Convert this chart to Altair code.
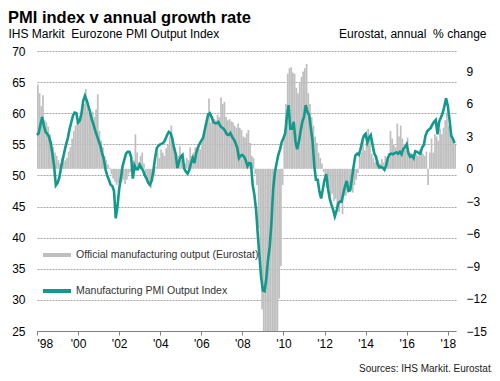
import altair as alt
import pandas as pd

start_year = 1998

# Eurozone manufacturing PMI output index, monthly from Jan 1998
pmi = [
    56.5, 56.8, 58.2, 59.4, 58.0, 57.0, 56.7, 56.2, 55.2, 53.5, 51.5, 48.4,
    48.8, 49.6, 51.2, 52.5, 53.8, 55.0, 56.0, 57.4, 58.5, 59.6, 60.1, 60.0,
    58.5, 58.8, 60.0, 62.0, 62.8, 62.1, 61.2, 60.2, 59.0, 58.2, 57.2, 56.4,
    55.6, 54.8, 53.6, 52.7, 51.0, 50.0, 49.3, 48.5, 48.3, 47.5, 43.1, 45.0,
    47.8, 49.5, 51.5, 52.5, 53.5, 53.8, 53.8, 53.0, 49.5, 51.6, 51.0, 51.0,
    51.7, 51.2, 50.8, 50.0, 49.5, 48.8, 48.5, 49.2, 50.8, 52.8, 54.4, 54.8,
    55.0, 55.1, 55.3, 55.8, 56.5, 57.0, 56.8, 56.0, 54.5, 53.5, 51.2, 52.2,
    53.0, 53.3, 51.1, 50.6, 50.3, 50.9, 52.0, 52.8, 52.0, 53.6, 54.5, 55.1,
    55.6, 56.0, 57.3, 58.6, 59.8, 60.0, 59.4, 58.6, 58.4, 58.4, 58.6, 58.0,
    57.7, 57.5, 57.1, 56.6, 56.5, 56.8, 56.2, 55.8, 55.2, 54.4, 52.8, 53.2,
    53.3, 53.0, 52.4, 51.5, 52.0, 51.9, 48.5, 46.9, 44.5, 40.5, 36.9, 33.5,
    31.5, 31.4, 33.5, 36.5, 38.6, 42.6, 47.9, 50.5, 52.0, 53.3, 54.2, 55.4,
    56.0, 56.8, 59.5, 61.3, 57.5, 57.5, 58.6, 55.5, 54.2, 55.4, 57.1, 58.6,
    59.4, 61.3, 60.2, 59.7, 57.6, 55.5, 51.5, 49.3, 49.3, 47.4, 46.3, 47.8,
    49.3, 50.2, 47.9, 46.3, 45.3, 44.5, 43.4, 44.3, 45.5, 45.8, 45.8, 47.2,
    48.3, 49.1, 47.5, 47.6, 49.5, 51.5, 53.2, 53.5, 53.3, 54.2, 55.5, 56.4,
    56.7, 55.3, 56.1, 56.5, 55.0, 53.6, 53.0, 51.8, 51.3, 51.4, 51.2, 50.9,
    51.6, 52.8, 53.4, 53.5, 53.4, 53.6, 53.7, 53.5, 53.8, 53.4, 54.3, 54.5,
    55.0, 53.6, 53.0, 53.2, 52.8, 53.9, 53.8, 53.6, 53.5, 54.5, 54.9, 56.4,
    57.1, 57.4, 57.6, 58.2, 58.6, 58.9, 56.6, 58.7, 59.3, 60.0, 61.1, 62.4,
    61.2, 59.0, 56.4, 55.9, 55.2,
]

# Eurostat manufacturing output, annual % change, monthly from Jan 1998
output = [
    7.8, 7.0, 5.8, 6.8, 4.5, 4.3, 3.9, 3.2, 2.6, 2.0, 1.5, 1.2,
    0.8, 0.5, 1.0, 0.6, 0.8, 1.0, 1.6, 2.0, 2.8, 3.5, 4.0, 4.4,
    4.5, 5.0, 5.5, 6.0, 7.4, 5.8, 5.2, 5.0, 5.3, 4.8, 5.5, 6.9,
    3.5, 2.6, 2.0, 1.2, 0.8, 0.4, 0.1, -0.5, -0.9, -1.2, -1.5, -1.3,
    -1.4, -1.2, -1.0, -1.4, -1.0, -0.5, -0.3, 0.3, 0.8, 3.2, 1.5, 0.6,
    1.2, 1.5, 0.5, -0.5, -1.0, -1.6, -1.8, -1.2, -0.6, 0.2, 1.5, 1.0,
    1.8, 1.5, 1.2, 1.9, 2.2, 3.0, 4.0, 2.5, 2.0, 1.5, 1.2, 2.1,
    0.8, 1.2, 0.5, 1.0, 0.8, 2.0, 1.2, 1.5, 2.0, 1.5, 2.1, 1.8,
    2.8, 3.2, 3.8, 4.5, 6.5, 4.3, 4.9, 4.6, 4.5, 5.0, 4.8, 6.6,
    6.0, 6.2, 4.8, 4.5, 4.6, 4.4, 4.3, 4.0, 3.8, 4.2, 3.8, 3.6,
    3.0, 2.9, 3.3, 3.6, 2.4, 1.2, 1.0, -0.5, -1.5, -5.5, -9.5, -13.0,
    -18.0, -20.0, -20.0, -22.0, -19.0, -18.0, -17.0, -16.0, -15.5, -12.0, -9.0, -1.5,
    3.0, 6.0, 8.8, 9.3, 9.4, 8.9, 8.8, 7.5, 7.0, 8.0, 8.5, 9.0,
    9.3, 9.7, 7.0, 6.0, 4.8, 4.0, 3.0, 2.4, 1.5, 1.0, 0.5, -0.3,
    -1.0, -1.8, -2.0, -2.5, -2.3, -3.0, -2.8, -3.5, -4.0, -3.2, -4.2, -2.5,
    -2.5, -2.0, -1.8, -1.5, -2.2, -1.5, -1.0, -0.4, 1.2, 1.5, 3.0, 1.7,
    2.4, 3.7, 2.9, 1.4, 1.0, 0.6, 1.2, 0.8, 0.5, 0.9, 0.6, 1.2,
    1.0, 1.4, 3.5, 2.8, 2.2, 2.0, 4.2, 3.0, 4.0, 2.8, 2.3, 1.8,
    2.9, 1.2, 1.5, 1.3, 1.0, 1.4, 1.2, 1.8, 1.5, 1.4, 1.2, 1.6,
    -1.5, 1.5, 2.8, 1.5, 3.2, 3.0, 2.6, 3.7, 3.2, 3.8, 4.5, 5.2,
    4.0, 3.2, 2.8, 2.5, 2.2,
]

series_names = ["Official manufacturing output (Eurostat)", "Manufacturing PMI Output Index"]
series_colors = ["#bfbfbf", "#12998c"]
year_ticks = list(range(1998, 2019, 2))
left_ticks = list(range(25, 71, 5))
right_ticks = list(range(-15, 10, 3))

n = len(pmi)
t = [start_year + i / 12 for i in range(n)]
df = pd.DataFrame({
    "t": t,
    "t2": [v + 1 / 12 for v in t],
    "pmi": pmi,
    "output": output,
    "s_bar": series_names[0],
    "s_line": series_names[1],
})

FONT = "Liberation Sans"

xscale = alt.Scale(domain=[1998, 2018.4], nice=False, zero=False)
color_scale = alt.Scale(domain=series_names, range=series_colors)
legend = alt.Legend(
    orient="none", legendX=4, legendY=188, title=None,
    symbolType="stroke", symbolSize=784, symbolStrokeWidth=4,
    labelFont=FONT, labelFontSize=10.5, labelColor="#333333", labelLimit=400,
    labelOffset=3, rowPadding=12, padding=0,
)

x_axis = alt.Axis(
    values=year_ticks, labelExpr="\"'\" + substring(toString(datum.value), 2)",
    grid=False, domainColor="#808080", tickColor="#808080", tickSize=4,
    labelPadding=3, labelFont=FONT, labelFontSize=12, labelColor="#000000",
    title="Sources: IHS Markit, Eurostat.", titleAngle=0, titleAlign="right",
    titleBaseline="alphabetic", titleX=456, titleY=40, titleFont=FONT,
    titleFontSize=10, titleFontWeight="normal", titleColor="#222222",
)

bars = alt.Chart(df).mark_rect(clip=True).encode(
    x=alt.X("t:Q", scale=xscale, axis=x_axis),
    x2="t2:Q",
    y=alt.Y("output:Q",
            scale=alt.Scale(domain=[-15, 10.9], nice=False, zero=False),
            axis=alt.Axis(orient="right", values=right_ticks, grid=False, ticks=False,
                          tickSize=0, domain=False, labelPadding=10,
                          labelFont=FONT, labelFontSize=12, labelColor="#000000",
                          title="Eurostat, annual\u00a0 % change", titleAngle=0,
                          titleAlign="right", titleBaseline="alphabetic",
                          titleX=30, titleY=-14, titleFont=FONT, titleFontSize=12,
                          titleFontWeight="normal", titleColor="#000000")),
    y2=alt.datum(0),
    color=alt.Color("s_bar:N", scale=color_scale, legend=legend),
)

line = alt.Chart(df).mark_line(strokeWidth=2.6).encode(
    x=alt.X("t:Q", scale=xscale),
    y=alt.Y("pmi:Q",
            scale=alt.Scale(domain=[25, 70], nice=False, zero=False),
            axis=alt.Axis(orient="left", values=left_ticks, grid=True,
                          gridColor="#a6a6a6", gridDash=[2, 1], gridWidth=1,
                          ticks=False, tickSize=0, domain=False, labelPadding=12,
                          labelFont=FONT, labelFontSize=12, labelColor="#000000",
                          title="IHS Markit\u00a0 Eurozone PMI Output Index", titleAngle=0,
                          titleAlign="left", titleBaseline="alphabetic",
                          titleX=-29, titleY=-14, titleFont=FONT, titleFontSize=12,
                          titleFontWeight="normal", titleColor="#000000")),
    color=alt.Color("s_line:N", scale=color_scale, legend=legend),
)

chart = alt.layer(bars, line).resolve_scale(y="independent").properties(
    width=419, height=280,
    autosize=alt.AutoSizeParams(type="none"),
    padding={"left": 29, "top": 43, "right": 36, "bottom": 41},
    title=alt.TitleParams("PMI index v annual growth rate", anchor="start", frame="group",
                          dx=-29, dy=0, offset=1, font=FONT, fontSize=16.5, fontWeight="bold",
                          color="#000000"),
).configure_view(stroke=None)

chart.save("out.html", embed_options={"renderer": "svg", "actions": False})
